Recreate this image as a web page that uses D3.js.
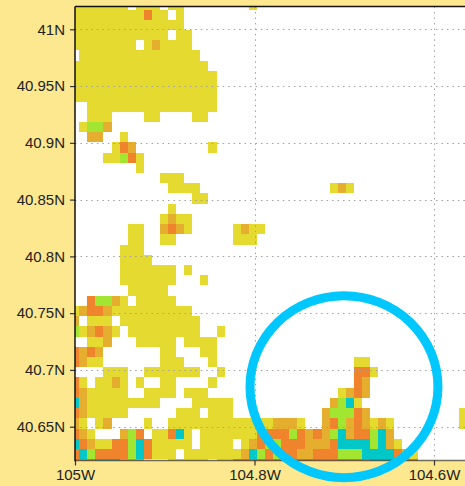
<!DOCTYPE html>
<html>
<head>
<meta charset="utf-8">
<script src="https://cdn.jsdelivr.net/npm/d3@7"></script>
<style>
html,body{margin:0;padding:0;background:#fde88f;}
svg{display:block;}
text{font-family:"Liberation Sans",Arial,sans-serif;}
</style>
</head>
<body>
<svg id="chart" width="465" height="486"></svg>
<script>
// Data: one string per grid row, top to bottom. '.' = no data, digits = colour class.
const gap = n => ".".repeat(n);
const cellRows = [
 "1111111.111.11"+gap(8)+"1",
 "111111111311.1",
 "11111111111111",
 "111111111111.11",
 "11111111.121111",
 ".111111111111111",
 "11111111111111111",
 "111111111111111111",
 "111111111111111111",
 "111111111111111111",
 "..1111111111111111",
 "..111....11....11",
 ".1442",
 "..22..1",
 ".....132.........1",
 "....11431",
 "........1",
 "...........111",
 gap(12)+"1111"+gap(16)+"121",
 gap(15)+"11",
 gap(12)+"1",
 gap(11)+"1211",
 ".......11..2321.....1211",
 ".......11..11.......111",
 "......111",
 "......1111",
 "......1111111.1",
 "......1111111...1",
 ".......11111",
 "..34421.11111",
 "123321111111111",
 "2.111.1111111111",
 "412321.111111111..1",
 "..112...11111.1111",
 "3232.......11...11",
 "3211.......111...1"+gap(17)+"11",
 "....111..1111111..1"+gap(16)+"331",
 "31.1121.1..11....1"+gap(17)+"32",
 "3211111..1111.111"+gap(16)+"1232",
 "52111111111....11111"+gap(12)+"2451",
 "3211111......111.111"+gap(11)+"244432"+gap(11)+"1",
 "21.12....1..1111111111111"+"222"+"1"+".."+"234232121"+gap(8)+"1",
 "321...243.11351."+"1111111"+"3333"+"4323245233452",
 "5321133453"+"11111.1111.1"+"2344333222355554521",
 "3543333453111.1111111"+"2543433"+"22333444555532"+"1",
 "333555222...11111.1133333333333333333555533"
];
const levelColors = ["#e5da30","#e6ae2e","#f0842d","#a2e632","#00c8c8"];
const latTicks = [41,40.95,40.9,40.85,40.8,40.75,40.7,40.65];
const lonTicks = [-105,-104.8,-104.6];
const cellSize = [0.009];
const firstColLon = [-105.0043];
const firstRowLat = [41.0264];
const ringCenter = [-104.7003, 40.6852];
const ringRadius = [0.1047, 0.0801];

const svg = d3.select("#chart");
const x = d3.scaleLinear().domain([-105,-104.6]).range([75,434]);
const y = d3.scaleLinear().domain([40.65,41]).range([426.7,29.3]);
const plot = {l:75,t:6.5,r:470,b:460.5};

svg.append("defs").append("clipPath").attr("id","pc").append("rect")
  .attr("x",plot.l).attr("y",plot.t).attr("width",plot.r-plot.l).attr("height",plot.b-plot.t);
svg.append("rect").attr("x",plot.l).attr("y",plot.t).attr("width",plot.r-plot.l).attr("height",plot.b-plot.t).attr("fill","#fff");

const cells = [];
cellRows.forEach((row,r)=>{ [...row].forEach((ch,c)=>{ if(ch!==".") cells.push({r,c,level:+ch-1}); }); });
const color = d3.scaleOrdinal().domain(d3.range(levelColors.length)).range(levelColors);
const g = svg.append("g").attr("clip-path","url(#pc)");
g.selectAll("rect").data(cells).join("rect")
  .attr("x",d=>Math.round(x(firstColLon[0]+d.c*cellSize[0])))
  .attr("y",d=>Math.round(y(firstRowLat[0]-d.r*cellSize[0])))
  .attr("width",d=>Math.round(x(firstColLon[0]+(d.c+1)*cellSize[0]))-Math.round(x(firstColLon[0]+d.c*cellSize[0])))
  .attr("height",d=>Math.round(y(firstRowLat[0]-(d.r+1)*cellSize[0]))-Math.round(y(firstRowLat[0]-d.r*cellSize[0])))
  .attr("fill",d=>color(d.level))
  .attr("shape-rendering","crispEdges");

// dotted graticule
const grid = svg.append("g").attr("fill","none").attr("stroke","#a0a0a0").attr("stroke-width",1).attr("stroke-dasharray","1.5 3.97");
grid.selectAll("line.h").data(latTicks).join("line").attr("class","h")
  .attr("x1",plot.l).attr("x2",plot.r).attr("y1",d=>Math.round(y(d))+.5).attr("y2",d=>Math.round(y(d))+.5);
grid.selectAll("line.v").data(lonTicks.slice(1)).join("line").attr("class","v")
  .attr("y1",plot.t).attr("y2",plot.b).attr("x1",d=>Math.round(x(d))+.5).attr("x2",d=>Math.round(x(d))+.5);

// axes
const fmtLat = d=>d3.format(".2~f")(d)+"N";
const fmtLon = d=>d3.format(".1~f")(Math.abs(d))+"W";
const ax = svg.append("g").attr("transform",`translate(${plot.l},0)`)
  .call(d3.axisLeft(y).tickValues(latTicks).tickSize(5).tickPadding(5).tickFormat(fmtLat));
const bx = svg.append("g").attr("transform",`translate(0,${plot.b})`)
  .call(d3.axisBottom(x).tickValues(lonTicks).tickSize(5).tickPadding(4).tickFormat(fmtLon));
[ax,bx].forEach(a=>{
  a.selectAll("text").attr("font-size",15).attr("fill","#222");
  a.selectAll("line").attr("stroke","#333").attr("stroke-width",1.2);
  a.select(".domain").remove();
});
// frame
const frame = svg.append("g").attr("stroke","#111").attr("fill","none").attr("stroke-width",1.5);
frame.append("line").attr("x1",plot.l).attr("x2",plot.l).attr("y1",plot.t).attr("y2",plot.b+.7);
frame.append("line").attr("x1",plot.l).attr("x2",plot.r).attr("y1",plot.t).attr("y2",plot.t);
frame.append("line").attr("x1",plot.l).attr("x2",plot.r).attr("y1",plot.b).attr("y2",plot.b).attr("stroke-opacity",.6);

// highlighted ring
svg.append("ellipse")
  .attr("cx",x(ringCenter[0])).attr("cy",y(ringCenter[1]))
  .attr("rx",x(ringCenter[0]+ringRadius[0])-x(ringCenter[0]))
  .attr("ry",y(ringCenter[1])-y(ringCenter[1]+ringRadius[1]))
  .attr("fill","none").attr("stroke","#00c8ff").attr("stroke-width",9);
</script>
</body>
</html>
